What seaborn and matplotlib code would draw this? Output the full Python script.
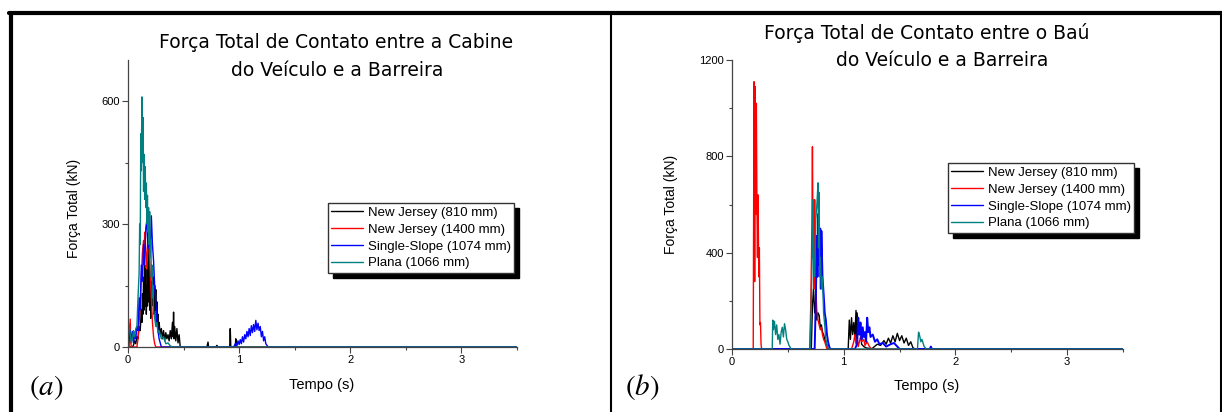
import matplotlib
matplotlib.use('Agg')

import matplotlib.pyplot as plt
from matplotlib.lines import Line2D
from matplotlib.ticker import MultipleLocator
import seaborn as sns
import pandas as pd

# series names / colours
SERIES = ["New Jersey (810 mm)", "New Jersey (1400 mm)",
          "Single-Slope (1074 mm)", "Plana (1066 mm)"]
COLORS = ["#000000", "#FF0000", "#0000FF", "#008080"]

# ---- (a) Cabine ----
t_a_nj810 = [0, 0.04, 0.05, 0.06, 0.07, 0.08, 0.09, 0.10, 0.11, 0.12, 0.125, 0.13, 0.135,
             0.14, 0.145, 0.15, 0.155, 0.16, 0.165, 0.17, 0.175, 0.18, 0.185, 0.19, 0.195,
             0.20, 0.205, 0.21, 0.215, 0.22, 0.225, 0.23, 0.235, 0.24, 0.245, 0.25, 0.255,
             0.26, 0.265, 0.27, 0.275, 0.28, 0.29, 0.30, 0.31, 0.32, 0.33, 0.34, 0.35, 0.36,
             0.37, 0.38, 0.39, 0.40, 0.405, 0.41, 0.415, 0.42, 0.43, 0.44, 0.45, 0.46, 0.47,
             0.71, 0.72, 0.725, 0.79, 0.80, 0.81, 0.915, 0.92, 0.925, 0.965, 0.97, 0.975, 3.5]
f_a_nj810 = [0, 0, 5, 15, 8, 25, 20, 50, 40, 90, 60, 130, 80,
             170, 90, 200, 100, 190, 80, 150, 100, 210, 110, 240, 90,
             180, 70, 160, 100, 190, 110, 170, 80, 150, 90, 140, 60,
             110, 50, 80, 40, 60, 30, 45, 20, 40, 15, 35, 20, 30,
             15, 40, 20, 60, 25, 85, 20, 50, 15, 45, 10, 30, 0,
             0, 12, 0, 0, 4, 0, 0, 45, 0, 0, 20, 0, 0]

t_a_nj1400 = [0, 0.01, 0.02, 0.025, 0.03, 0.08, 0.09, 0.10, 0.11, 0.12, 0.13, 0.14, 0.145,
              0.15, 0.16, 0.17, 0.18, 0.19, 0.20, 0.21, 0.22, 0.23, 0.24, 0.25, 3.5]
f_a_nj1400 = [0, 0, 68, 10, 0, 0, 20, 60, 110, 170, 230, 260, 200,
              280, 240, 190, 265, 250, 180, 120, 60, 25, 8, 0, 0]

t_a_ss = [0, 0.01, 0.02, 0.03, 0.04, 0.05, 0.06, 0.07, 0.08, 0.09, 0.10, 0.11, 0.12, 0.13,
          0.14, 0.15, 0.16, 0.17, 0.18, 0.19, 0.20, 0.21, 0.22, 0.23, 0.24, 0.25, 0.26, 0.27,
          0.28, 0.30,
          0.95, 0.96, 0.97, 0.98, 0.99, 1.00, 1.01, 1.02, 1.03, 1.04, 1.05, 1.06, 1.07, 1.08,
          1.09, 1.10, 1.11, 1.12, 1.13, 1.14, 1.15, 1.16, 1.17, 1.18, 1.19, 1.20, 1.21, 1.22,
          1.23, 1.24, 1.26, 3.5]
f_a_ss = [0, 20, 40, 15, 38, 10, 30, 20, 50, 40, 120, 90, 200, 160,
          250, 200, 290, 310, 240, 260, 230, 320, 250, 210, 150, 110, 60, 40,
          20, 0,
          0, 5, 10, 3, 15, 6, 18, 8, 25, 12, 30, 20, 38, 25,
          45, 28, 52, 35, 55, 38, 65, 42, 58, 40, 50, 25, 38, 15,
          25, 8, 0, 0]

t_a_plana = [0, 0.01, 0.02, 0.03, 0.04, 0.05, 0.06, 0.07, 0.08, 0.09, 0.10, 0.105, 0.11,
             0.115, 0.12, 0.125, 0.13, 0.135, 0.14, 0.145, 0.15, 0.155, 0.16, 0.165, 0.17,
             0.175, 0.18, 0.185, 0.19, 0.195, 0.20, 0.205, 0.21, 0.215, 0.22, 0.225, 0.23,
             0.24, 0.25, 0.26, 0.27, 0.28, 0.30, 0.32, 0.34, 0.36, 0.38, 0.40, 3.5]
f_a_plana = [60, 55, 30, 10, 20, 40, 25, 45, 50, 120, 180, 300, 250,
             520, 430, 610, 450, 560, 380, 470, 360, 440, 340, 400, 300,
             370, 280, 340, 250, 330, 220, 260, 170, 200, 120, 150, 90,
             70, 50, 60, 35, 40, 20, 25, 8, 10, 3, 0, 0]

# ---- (b) Baú ----
t_b_nj810 = [0, 0.71, 0.72, 0.73, 0.74, 0.75, 0.76, 0.77, 0.78, 0.79, 0.80, 0.81, 0.82, 0.83,
             0.84, 0.86,
             1.04, 1.05, 1.06, 1.07, 1.08, 1.09, 1.10, 1.11, 1.115, 1.12, 1.13, 1.14, 1.15,
             1.16, 1.18, 1.20, 1.25, 1.30, 1.33, 1.36, 1.38, 1.40, 1.42, 1.44, 1.46, 1.48,
             1.50, 1.52, 1.54, 1.56, 1.58, 1.60, 1.62, 1.64, 3.5]
f_b_nj810 = [0, 0, 180, 250, 150, 200, 120, 150, 140, 90, 100, 70, 60, 40,
             30, 0,
             0, 120, 40, 130, 60, 110, 50, 160, 30, 150, 80, 60, 90,
             20, 10, 5, 0, 20, 15, 35, 20, 45, 25, 55, 30, 65,
             35, 55, 25, 45, 15, 30, 5, 0, 0]

t_b_nj1400 = [0, 0.19, 0.197, 0.203, 0.208, 0.213, 0.218, 0.223, 0.228, 0.233, 0.24, 0.245,
              0.25, 0.255, 0.26, 0.265,
              0.695, 0.705, 0.715, 0.72, 0.725, 0.73, 0.735, 0.74, 0.745, 0.75, 0.755, 0.76,
              0.77, 0.78, 0.79, 0.80, 0.81, 0.82, 0.83, 0.85,
              1.07, 1.09, 1.10, 1.11, 1.12, 1.13, 1.15, 1.16, 1.18, 1.19, 1.21, 1.23, 1.25,
              3.5]
f_b_nj1400 = [0, 0, 1110, 280, 1090, 560, 1020, 620, 380, 640, 300, 420,
              100, 110, 20, 0,
              0, 180, 500, 840, 450, 600, 250, 620, 300, 350, 200, 150,
              120, 100, 80, 90, 60, 40, 30, 0,
              0, 30, 60, 20, 45, 10, 50, 30, 40, 15, 30, 10, 0,
              0]

t_b_ss = [0, 0.74, 0.75, 0.76, 0.765, 0.77, 0.78, 0.79, 0.795, 0.80, 0.81, 0.82, 0.83, 0.84,
          0.85, 0.86, 0.87, 0.88,
          1.10, 1.12, 1.13, 1.14, 1.15, 1.16, 1.17, 1.18, 1.19, 1.20, 1.21, 1.22, 1.23, 1.24,
          1.26, 1.28, 1.30, 1.32, 1.35, 1.38, 1.42, 1.45, 1.47, 1.50,
          1.77, 1.78, 1.79, 3.5]
f_b_ss = [0, 0, 200, 470, 300, 560, 350, 500, 250, 490, 300, 230, 150, 120,
          60, 30, 10, 0,
          0, 20, 130, 60, 110, 40, 90, 50, 70, 30, 130, 70, 90, 50,
          60, 30, 40, 20, 25, 10, 20, 25, 15, 0,
          0, 10, 0, 0]

t_b_plana = [0, 0.36, 0.365, 0.37, 0.38, 0.39, 0.40, 0.41, 0.42, 0.43, 0.44, 0.45, 0.46, 0.47,
             0.48, 0.49, 0.50, 0.51, 0.53,
             0.70, 0.71, 0.72, 0.725, 0.73, 0.74, 0.75, 0.76, 0.77, 0.775, 0.78, 0.785, 0.79,
             0.80, 0.81, 0.82, 0.83, 0.84, 0.85, 0.86,
             1.66, 1.67, 1.68, 1.69, 1.70, 1.72, 1.74, 3.5]
f_b_plana = [0, 0, 120, 80, 115, 60, 100, 40, 60, 20, 70, 90, 50, 105,
             80, 40, 30, 15, 0,
             0, 200, 450, 620, 380, 300, 540, 600, 690, 420, 650, 300, 380,
             250, 300, 150, 100, 40, 20, 0,
             0, 70, 55, 30, 40, 10, 0, 0]

panel_a = [(t_a_nj810, f_a_nj810), (t_a_nj1400, f_a_nj1400), (t_a_ss, f_a_ss), (t_a_plana, f_a_plana)]
panel_b = [(t_b_nj810, f_b_nj810), (t_b_nj1400, f_b_nj1400), (t_b_ss, f_b_ss), (t_b_plana, f_b_plana)]


def to_frame(panel):
    parts = []
    for name, (t, f) in zip(SERIES, panel):
        parts.append(pd.DataFrame({"t": t, "F": f, "serie": name}))
    return pd.concat(parts, ignore_index=True)


sns.set_style("white")
plt.rcParams['font.family'] = ['Liberation Sans', 'DejaVu Sans']
plt.rcParams['mathtext.fontset'] = 'stix'
plt.rcParams['text.color'] = 'black'
plt.rcParams['xtick.color'] = 'black'
plt.rcParams['ytick.color'] = 'black'

fig = plt.figure(figsize=(12.22, 4.12), dpi=100)
W, H = 1222, 412


def fx(px):
    return px / W


def fy(py):
    return 1 - py / H


ax_a = fig.add_axes([fx(128), fy(347), fx(517) - fx(128), fy(60) - fy(347)])
ax_b = fig.add_axes([fx(732), fy(349), fx(1123) - fx(732), fy(60) - fy(349)])

for ax, panel, ymax, ystep in [(ax_a, panel_a, 700, 300), (ax_b, panel_b, 1200, 400)]:
    df = to_frame(panel)
    sns.lineplot(data=df, x="t", y="F", hue="serie", hue_order=SERIES,
                 palette=COLORS, estimator=None, sort=False, lw=1.0, ax=ax, legend=False)
    ax.set_xlim(0, 3.5)
    ax.set_ylim(0, ymax)
    ax.xaxis.set_major_locator(MultipleLocator(1))
    ax.xaxis.set_minor_locator(MultipleLocator(0.5))
    ax.yaxis.set_major_locator(MultipleLocator(ystep))
    ax.yaxis.set_minor_locator(MultipleLocator(ystep / 2))
    ax.tick_params(which='both', direction='out', color='#444444', width=0.8,
                   bottom=True, left=True, labelsize=8, pad=2)
    ax.tick_params(which='major', length=4)
    ax.tick_params(which='minor', length=2.5)
    for s in ['top', 'right']:
        ax.spines[s].set_visible(False)
    for s in ['left', 'bottom']:
        ax.spines[s].set_color('#444444')
        ax.spines[s].set_linewidth(0.9)
    ax.set_xlabel("")
    ax.set_ylabel("")
    ax.patch.set_alpha(0)

# blue runs a bit heavier in panel (b)
ax_b.get_lines()[2].set_linewidth(1.4)

handles = [Line2D([], [], color=c, lw=1.0) for c in COLORS]
for ax, (lx, ly) in [(ax_a, (328, 203)), (ax_b, (948, 163))]:
    ax.legend(handles, SERIES, loc='upper left', bbox_to_anchor=(fx(lx), fy(ly)),
              bbox_transform=fig.transFigure, fontsize=9.5, frameon=True, fancybox=False,
              edgecolor='#333333', framealpha=1, borderaxespad=0, borderpad=0.25,
              labelspacing=0.36, handlelength=2.4, handletextpad=0.35,
              shadow={'ox': 3.5, 'oy': -3.5, 'color': 'black', 'alpha': 1})

# axis labels
fig.text(fx(74), fy(208), "Força Total (kN)", rotation=90, ha='center', va='center', fontsize=10)
fig.text(fx(671), fy(204), "Força Total (kN)", rotation=90, ha='center', va='center', fontsize=10)
fig.text(fx(322), fy(385), "Tempo (s)", ha='center', va='center', fontsize=10.5)
fig.text(fx(927), fy(386), "Tempo (s)", ha='center', va='center', fontsize=10.5)

# titles
tfont = dict(family=['DejaVu Sans'], fontsize=13.5, ha='center', va='center', color='black')
fig.text(fx(336), fy(43), "Força Total de Contato entre a Cabine", **tfont)
fig.text(fx(337), fy(71), "do Veículo e a Barreira", **tfont)
fig.text(fx(927), fy(33), "Força Total de Contato entre o Baú", **tfont)
fig.text(fx(942), fy(61), "do Veículo e a Barreira", **tfont)

# panel letters
fig.text(fx(46), fy(387), r"$(a)$", ha='center', va='center', fontsize=21)
fig.text(fx(642), fy(387), r"$(b)$", ha='center', va='center', fontsize=21)

# frame around the panels
frame = [((fx(9), fx(1222)), (fy(13), fy(13)), 3.0),
         ((fx(11), fx(11)), (fy(13), 0), 3.0),
         ((fx(611), fx(611)), (fy(13), 0), 1.5),
         ((fx(1221), fx(1221)), (fy(13), 0), 1.5)]
for xs, ys, lw in frame:
    fig.add_artist(Line2D(xs, ys, color='black', lw=lw, transform=fig.transFigure))

fig.savefig("out.png", dpi=100)
